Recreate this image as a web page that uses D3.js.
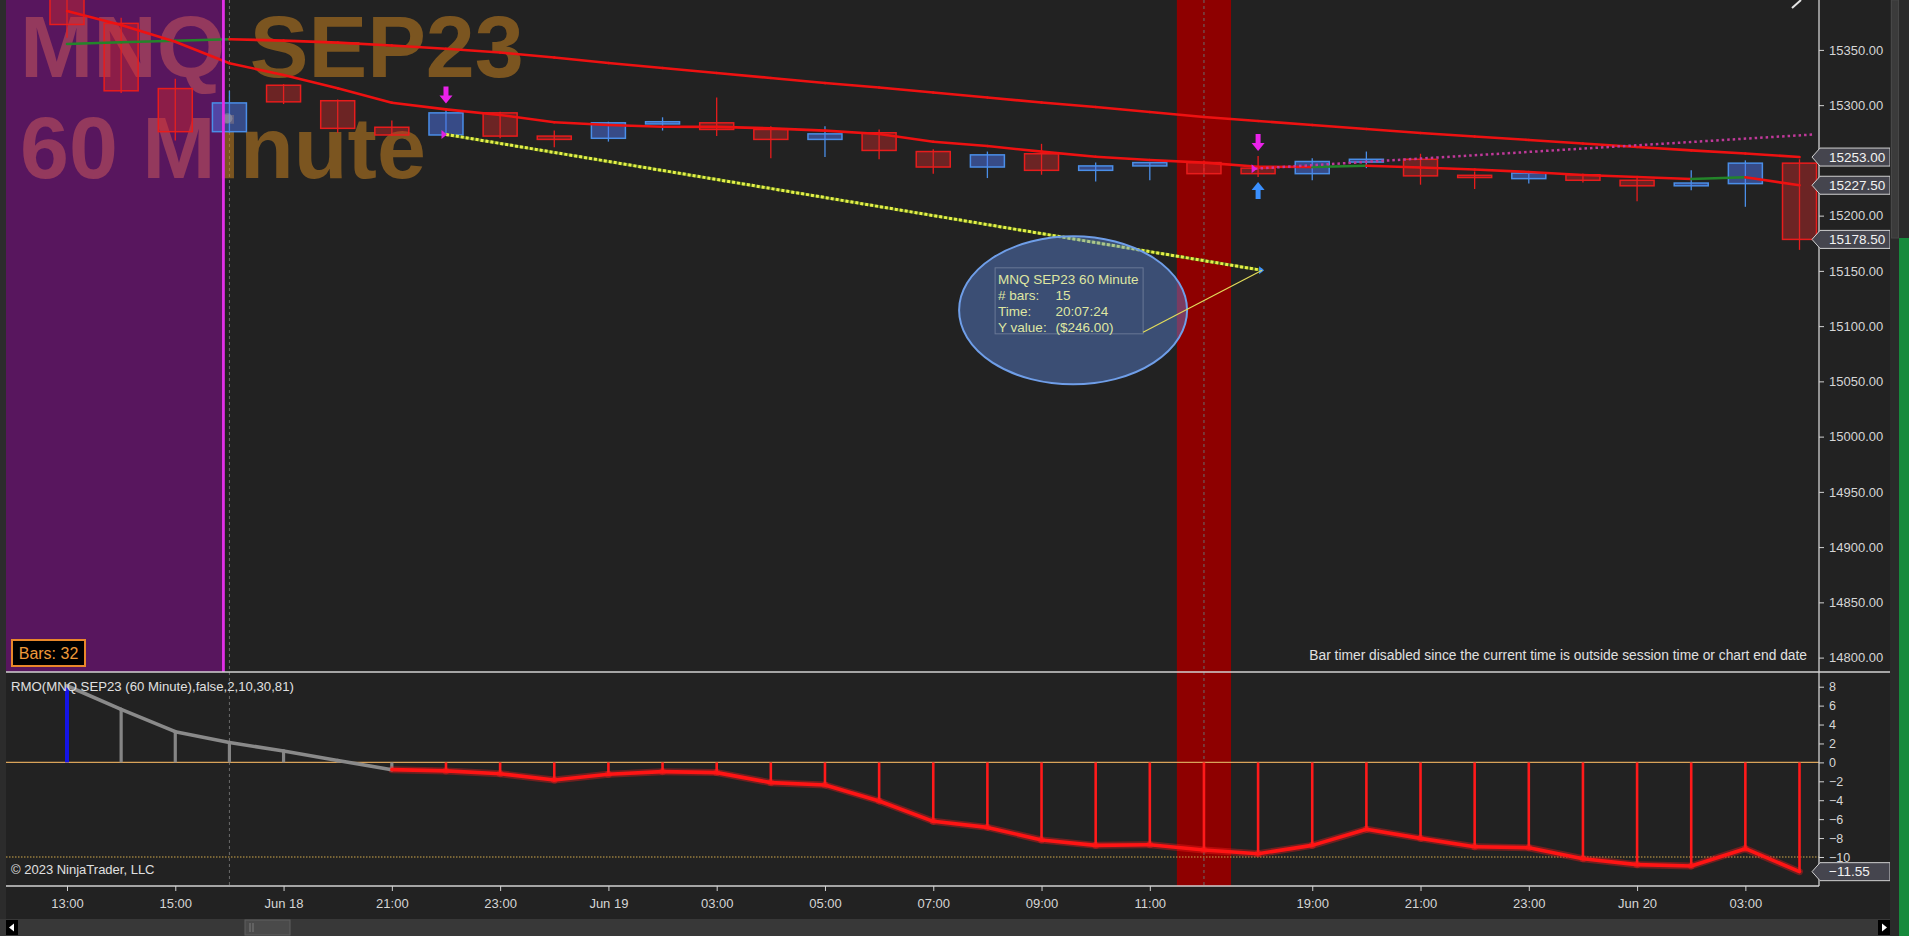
<!DOCTYPE html>
<html><head><meta charset="utf-8">
<script src="https://cdn.jsdelivr.net/npm/d3@7"></script>
<style>
html,body{margin:0;padding:0;background:#222;overflow:hidden}
svg{display:block;font-family:"Liberation Sans",Arial,sans-serif}
</style></head>
<body><svg id="c" width="1909" height="936"></svg>
<script>
// ---------------- DATA ----------------
const barTimes = ["Jun 16 13:00","Jun 16 14:00","Jun 16 15:00","Jun 16 16:00","Jun 18 19:00","Jun 18 20:00","Jun 18 21:00","Jun 18 22:00","Jun 18 23:00","Jun 19 00:00","Jun 19 01:00","Jun 19 02:00","Jun 19 03:00","Jun 19 04:00","Jun 19 05:00","Jun 19 06:00","Jun 19 07:00","Jun 19 08:00","Jun 19 09:00","Jun 19 10:00","Jun 19 11:00","Jun 19 12:00","Jun 19 13:00","Jun 19 19:00","Jun 19 20:00","Jun 19 21:00","Jun 19 22:00","Jun 19 23:00","Jun 20 00:00","Jun 20 01:00","Jun 20 02:00","Jun 20 03:00","Jun 20 04:00"];
const openP  = [15400,15374,15315,15276,15318,15304,15280,15273,15293,15272,15270,15283,15284,15278,15269,15275,15258,15244,15256,15241,15245,15248,15243,15238,15248.5,15251,15236.5,15233.5,15237,15232,15227,15229,15247.5];
const highP  = [15405,15379,15324,15313,15319,15305,15286,15297,15294,15277,15285,15289,15307,15281,15281,15278,15260,15258,15265,15248,15248,15250,15254,15252,15258,15256,15240,15239,15238,15235,15241,15250,15251];
const lowP   = [15361,15311,15268,15275,15301,15275,15272,15273,15270,15262,15267,15277,15272,15252,15253,15251,15238,15234,15237,15231,15232,15238,15235,15232,15243,15228,15224,15229,15230,15213,15223,15208,15169];
const closeP = [15373,15313,15276,15302,15303,15279,15273,15293,15272,15269,15284,15285,15278,15269,15274,15259,15244,15255,15241,15245,15248,15238,15238,15249,15251,15236,15234.5,15238.5,15232,15227,15229.5,15247.5,15178.5];
const slowMA = [15355.3,15356.9,15358.3,15359.7,15358.4,15356.6,15354.0,15351.0,15347.6,15343.1,15338.1,15333.6,15329.1,15324.6,15320.0,15316.0,15311.4,15306.9,15302.4,15298.3,15293.8,15289.3,15285.7,15282.0,15278.4,15274.8,15271.6,15268.5,15265.3,15262.1,15259.1,15256.2,15253.0];
const fastMA = [15385.2,15372.5,15357.4,15337.9,15327.3,15315.2,15302.2,15296.2,15291.1,15284.5,15282.0,15280.5,15280.3,15279.0,15276.9,15273.9,15266.9,15263.0,15257.9,15253.3,15250.4,15248.0,15244.3,15244.0,15245.2,15243.6,15241.8,15239.5,15236.8,15235.0,15233.2,15234.7,15227.5];
const rmo    = [8.1,5.6,3.25,2.1,1.2,0.2,-0.77,-0.9,-1.2,-1.86,-1.26,-0.98,-1.08,-2.14,-2.39,-4.08,-6.23,-6.87,-8.2,-8.77,-8.7,-9.26,-9.65,-8.77,-7.07,-8.03,-8.91,-9.02,-10.18,-10.81,-10.95,-9.12,-11.55];
const rmoState = ["up","flat","flat","flat","flat","flat","flat","down","down","down","down","down","down","down","down","down","down","down","down","down","down","down","down","down","down","down","down","down","down","down","down","down","down"];
const timeTickBars   = [0,2,4,6,8,10,12,14,16,18,20,23,25,27,29,31];
const timeTickLabels = ["13:00","15:00","Jun 18","21:00","23:00","Jun 19","03:00","05:00","07:00","09:00","11:00","19:00","21:00","23:00","Jun 20","03:00"];
const priceTicks = [14800,14850,14900,14950,15000,15050,15100,15150,15200,15250,15300,15350];
const rmoTicks = [-10,-8,-6,-4,-2,0,2,4,6,8];
const rmoLevels = [0,-10];
const sessionBars = [3,21];
const highlightBar = 21;
const downArrowBars = [7,22];
const upArrowBars = [22];
const dotBars = [3];
const trendStart = {bar:7, price:15273.5};
const trendEnd = {bar:22, price:15150.5};
const ray = {bar:22, price:15242.5, perBar:3.0};
const tooltipLines = [["MNQ SEP23 60 Minute",""],["# bars:","15"],["Time:","20:07:24"],["Y value:","($246.00)"]];
const watermark = ["MNQ SEP23","60 Minute"];
const indicatorTitle = "RMO(MNQ SEP23 (60 Minute),false,2,10,30,81)";

// ---------------- LAYOUT ----------------
const svg = d3.select("#c");
const plotL = 6, plotR = 1819, priceBot = 672, indBot = 886;
const x = d3.scalePoint().domain(barTimes).range([67, 1799.5]);
const step = x.step();
const xb = i => x(barTimes[i]);
const y = d3.scaleLinear().domain([14800, 15350]).range([657.6, 49.9]);
const yi = d3.scaleLinear().domain([-10, 8]).range([857, 686.7]);
const RED = "#e81c1c", BLUE = "#4a8ee8", GREEN = "#23852a";

svg.append("rect").attr("width",1909).attr("height",936).attr("fill","#222222");
svg.append("rect").attr("x",0).attr("y",0).attr("width",plotL).attr("height",919).attr("fill","#2c2c2c");

const defs = svg.append("defs");
defs.append("clipPath").attr("id","cp").append("rect").attr("x",plotL).attr("y",0).attr("width",plotR-plotL).attr("height",priceBot);
defs.append("clipPath").attr("id","ci").append("rect").attr("x",plotL).attr("y",priceBot).attr("width",plotR-plotL).attr("height",indBot-priceBot);

// highlight band
svg.append("rect").attr("x", xb(highlightBar)-step/2).attr("width", step)
  .attr("y",0).attr("height",indBot).attr("fill","#8e0000");
// session break dashed lines
svg.selectAll(".sess").data(sessionBars).join("line")
  .attr("x1",d=>xb(d)).attr("x2",d=>xb(d)).attr("y1",0).attr("y2",indBot)
  .attr("stroke","#6a6a6a").attr("stroke-width",1).attr("stroke-dasharray","3,3");

// watermark
svg.selectAll(".wm").data(watermark).join("text")
  .attr("x",20).attr("y",(d,i)=>77+i*101)
  .attr("font-size",88).attr("font-weight","bold")
  .attr("fill","#d4871e").attr("fill-opacity",0.5).text(d=>d);

const pg = svg.append("g").attr("clip-path","url(#cp)");

// purple overlay region (over watermark, under candles)
const purpleR = xb(sessionBars[0]) - 6;
pg.append("rect").attr("x",plotL).attr("y",0).attr("width",purpleR-plotL).attr("height",priceBot)
  .attr("fill","rgb(200,0,220)").attr("fill-opacity",0.33);

// candles
const idx = d3.range(barTimes.length);
const bw = 34;
const cg = pg.append("g");
cg.selectAll(".wick").data(idx).join("line")
  .attr("x1",i=>xb(i)).attr("x2",i=>xb(i))
  .attr("y1",i=>y(highP[i])).attr("y2",i=>y(lowP[i]))
  .attr("stroke",i=>closeP[i]>=openP[i]?BLUE:RED).attr("stroke-width",1.3);
cg.selectAll(".body").data(idx).join("rect")
  .attr("x",i=>xb(i)-bw/2).attr("width",bw)
  .attr("y",i=>y(Math.max(openP[i],closeP[i])))
  .attr("height",i=>Math.max(1.5,Math.abs(y(openP[i])-y(closeP[i]))))
  .attr("fill",i=>closeP[i]>=openP[i]?"rgba(75,115,235,0.5)":"rgba(220,40,40,0.4)")
  .attr("stroke",i=>closeP[i]>=openP[i]?BLUE:RED).attr("stroke-width",1.5);
cg.selectAll(".dot").data(dotBars).join("circle")
  .attr("cx",i=>xb(i)-2).attr("cy",i=>y((openP[i]+closeP[i])/2)+1).attr("r",5)
  .attr("fill","#9a9aa8").attr("fill-opacity",0.55);

// moving averages, coloured by slope
function maLine(vals){
  const segs = d3.range(vals.length-1);
  pg.append("g").selectAll("line").data(segs).join("line")
    .attr("x1",i=>xb(i)).attr("y1",i=>y(vals[i]))
    .attr("x2",i=>xb(i+1)).attr("y2",i=>y(vals[i+1]))
    .attr("stroke",i=>vals[i+1]>vals[i]?GREEN:"#ee1111")
    .attr("stroke-width",2.6).attr("stroke-linecap","round");
}
maLine(slowMA);
maLine(fastMA);

// trend line (yellow dotted)
const tsx = xb(trendStart.bar), tsy = y(trendStart.price);
const tex = xb(trendEnd.bar)+4, tey = y(trendEnd.price);
pg.append("line").attr("x1",tsx).attr("y1",tsy).attr("x2",tex).attr("y2",tey)
  .attr("stroke","#55701a").attr("stroke-width",3);
pg.append("line").attr("x1",tsx).attr("y1",tsy).attr("x2",tex).attr("y2",tey)
  .attr("stroke","#e6f04a").attr("stroke-width",3).attr("stroke-dasharray","3,2");

// pink dotted ray
const rx0 = xb(ray.bar)-3, ry0 = y(ray.price);
const rBarsToEdge = (plotR-4-rx0)/step;
pg.append("line").attr("x1",rx0).attr("y1",ry0)
  .attr("x2",plotR-4).attr("y2",y(ray.price+ray.perBar*rBarsToEdge))
  .attr("stroke","#c0399a").attr("stroke-width",2.5).attr("stroke-dasharray","2.5,3");

// anchors
function triRight(g,cx,cy,col,s){
  g.append("path").attr("d",`M${cx-s},${cy-s} L${cx+1},${cy} L${cx-s},${cy+s} Z`).attr("fill",col);
}
triRight(pg, tsx, tsy, "#e020e0", 4.5);
triRight(pg, rx0+1, ry0, "#e020e0", 4.5);
triRight(pg, tex+1, tey, "#3a90ff", 4);

// signal arrows
pg.selectAll(".da").data(downArrowBars).join("path")
  .attr("d",i=>{const cx=xb(i), t=y(highP[i])-5; return `M${cx-2.5},${t-17} h5 v9 h4 L${cx},${t} L${cx-6.5},${t-8} h4 Z`;})
  .attr("fill","#ea22ea");
pg.selectAll(".ua").data(upArrowBars).join("path")
  .attr("d",i=>{const cx=xb(i), t=y(lowP[i])+5; return `M${cx-2.5},${t+17} h5 v-9 h4 L${cx},${t} L${cx-6.5},${t+8} h4 Z`;})
  .attr("fill","#3a90ff");

// magenta line
svg.append("line").attr("x1",purpleR).attr("x2",purpleR).attr("y1",0).attr("y2",priceBot)
  .attr("stroke","#e22ee8").attr("stroke-width",2.8);

// tooltip
const tg = svg.append("g");
tg.append("ellipse").attr("cx",tex-189).attr("cy",tey+40).attr("rx",114).attr("ry",74)
  .attr("fill","rgba(95,140,230,0.42)").attr("stroke","#6f9ee8").attr("stroke-width",2);
tg.append("rect").attr("x",tex-267).attr("y",tey-2.5).attr("width",148).attr("height",66)
  .attr("fill","none").attr("stroke","rgba(160,170,190,0.45)").attr("stroke-width",1);
tg.append("line").attr("x1",tex).attr("y1",tey).attr("x2",tex-119).attr("y2",tey+62)
  .attr("stroke","#e3dc5a").attr("stroke-width",1.2);
tooltipLines.forEach((l,k)=>{
  tg.append("text").attr("x",tex-264).attr("y",tey+14+k*16).attr("font-size",13.5).attr("fill","#dfe6a2").text(l[0]);
  if(l[1]) tg.append("text").attr("x",tex-206.5).attr("y",tey+14+k*16).attr("font-size",13.5).attr("fill","#dfe6a2").text(l[1]);
});

// Bars box
svg.append("rect").attr("x",12).attr("y",640).attr("width",73).attr("height",26)
  .attr("fill","#000").attr("stroke","#e8872a").attr("stroke-width",2);
svg.append("text").attr("x",48.5).attr("y",659).attr("text-anchor","middle")
  .attr("font-size",16).attr("fill","#ef9a3a").text("Bars: "+(barTimes.length-1));

svg.append("text").attr("x",1807).attr("y",660).attr("text-anchor","end")
  .attr("font-size",13.8).attr("fill","#e0e0e0")
  .text("Bar timer disabled since the current time is outside session time or chart end date");

// ---------------- INDICATOR PANEL ----------------
const ig = svg.append("g").attr("clip-path","url(#ci)");
ig.append("line").attr("x1",plotL).attr("x2",plotR).attr("y1",yi(rmoLevels[0])).attr("y2",yi(rmoLevels[0]))
  .attr("stroke","#d9a35a").attr("stroke-width",1.2);
ig.append("line").attr("x1",plotL).attr("x2",plotR).attr("y1",yi(rmoLevels[1])).attr("y2",yi(rmoLevels[1]))
  .attr("stroke","#d0a84a").attr("stroke-width",1.2).attr("stroke-dasharray","1.5,1.5");
const stCol = {up:"#1414e6", flat:"#858585", down:"#ff1a1a"};
ig.selectAll(".hist").data(idx).join("line")
  .attr("x1",i=>xb(i)).attr("x2",i=>xb(i)).attr("y1",yi(0)).attr("y2",i=>yi(rmo[i]))
  .attr("stroke",i=>stCol[rmoState[i]]).attr("stroke-width",i=>rmoState[i]==="up"?4:(rmoState[i]==="flat"?3.2:2.6));
const segs = d3.range(rmo.length-1);
ig.selectAll(".glow").data(segs.filter(i=>rmoState[i+1]==="down")).join("line")
  .attr("x1",i=>xb(i)).attr("y1",i=>yi(rmo[i])).attr("x2",i=>xb(i+1)).attr("y2",i=>yi(rmo[i+1]))
  .attr("stroke","rgba(255,30,30,0.35)").attr("stroke-width",7).attr("stroke-linecap","round");
ig.selectAll(".seg").data(segs).join("line")
  .attr("x1",i=>xb(i)).attr("y1",i=>yi(rmo[i])).attr("x2",i=>xb(i+1)).attr("y2",i=>yi(rmo[i+1]))
  .attr("stroke",i=>rmoState[i+1]==="down"?"#ff1414":"#8a8a8a").attr("stroke-width",3.6).attr("stroke-linecap","round");

svg.append("text").attr("x",11).attr("y",691).attr("font-size",13.2).attr("fill","#e0e0e0").text(indicatorTitle);
svg.append("text").attr("x",11).attr("y",874).attr("font-size",13).attr("fill","#e0e0e0").text("\u00A9 2023 NinjaTrader, LLC");

// ---------------- AXES ----------------
const axCol = "#d2d2d2";
const pa = svg.append("g").attr("transform",`translate(${plotR},0)`)
  .call(d3.axisRight(y).tickValues(priceTicks).tickFormat(d3.format(".2f")).tickSize(5).tickPadding(5));
const ia = svg.append("g").attr("transform",`translate(${plotR},0)`)
  .call(d3.axisRight(yi).tickValues(rmoTicks).tickFormat(d3.format("d")).tickSize(5).tickPadding(5));
const ta = svg.append("g").attr("transform",`translate(0,${indBot})`)
  .call(d3.axisBottom(x).tickValues(timeTickBars.map(i=>barTimes[i]))
    .tickFormat(d=>timeTickLabels[timeTickBars.indexOf(barTimes.indexOf(d))]).tickSize(5).tickPadding(8));
[pa,ia,ta].forEach(a=>{
  a.select(".domain").remove();
  a.selectAll("line").attr("stroke",axCol);
  a.selectAll("text").attr("fill","#d6d6d6").attr("font-size",13).attr("font-family","\"Liberation Sans\",Arial,sans-serif");
});
ia.selectAll("text").attr("font-size",12.5);

// frame lines
svg.append("line").attr("x1",plotR).attr("x2",plotR).attr("y1",0).attr("y2",indBot).attr("stroke",axCol).attr("stroke-width",1.3);
svg.append("line").attr("x1",plotL).attr("x2",1890).attr("y1",priceBot).attr("y2",priceBot).attr("stroke",axCol).attr("stroke-width",1.5);
svg.append("line").attr("x1",plotL).attr("x2",plotR).attr("y1",indBot).attr("y2",indBot).attr("stroke",axCol).attr("stroke-width",1.3);

// value tags
function tag(yy, label){
  const x0 = 1812, x1 = 1890, h = 9;
  svg.append("path").attr("d",`M${x0},${yy} L${x0+8},${yy-h} L${x1},${yy-h} L${x1},${yy+h} L${x0+8},${yy+h} Z`)
    .attr("fill","#45454e").attr("stroke","#d0d0d0").attr("stroke-width",1);
  svg.append("text").attr("x",1829).attr("y",yy+4.6).attr("font-size",13.5).attr("fill","#f2f2f2").text(label);
}
tag(y(slowMA[slowMA.length-1]), d3.format(".2f")(slowMA[slowMA.length-1]));
tag(y(fastMA[fastMA.length-1]), d3.format(".2f")(fastMA[fastMA.length-1]));
tag(y(closeP[closeP.length-1]), d3.format(".2f")(closeP[closeP.length-1]));
tag(yi(rmo[rmo.length-1]), d3.format(".2f")(rmo[rmo.length-1]));

// ---------------- CHROME ----------------
svg.append("rect").attr("x",0).attr("y",919).attr("width",1890).attr("height",17).attr("fill","#383838");
svg.append("rect").attr("x",6).attr("y",920).attr("width",12).attr("height",15).attr("fill","#000");
svg.append("path").attr("d","M9,927.5 L14,923.5 L14,931.5 Z").attr("fill","#fff");
svg.append("rect").attr("x",1878).attr("y",920).attr("width",12).attr("height",15).attr("fill","#000");
svg.append("path").attr("d","M1887,927.5 L1882,923.5 L1882,931.5 Z").attr("fill","#fff");
svg.append("rect").attr("x",245).attr("y",920).attr("width",45).attr("height",15).attr("fill","#4a4a4a").attr("stroke","#5e5e5e");
svg.append("line").attr("x1",250).attr("x2",250).attr("y1",923).attr("y2",932).attr("stroke","#7a7a7a");
svg.append("line").attr("x1",253).attr("x2",253).attr("y1",923).attr("y2",932).attr("stroke","#7a7a7a");
svg.append("rect").attr("x",1890).attr("y",0).attr("width",19).attr("height",936).attr("fill","#2a2a2a");
svg.append("rect").attr("x",1891.5).attr("y",0).attr("width",7).attr("height",238).attr("fill","#3b3b3b").attr("stroke","#474747");
svg.append("rect").attr("x",1899).attr("y",238).attr("width",10).attr("height",698).attr("fill","#168a3c");
svg.append("line").attr("x1",1792).attr("y1",8).attr("x2",1801).attr("y2",0).attr("stroke","#e6e6e6").attr("stroke-width",2);
</script></body></html>
